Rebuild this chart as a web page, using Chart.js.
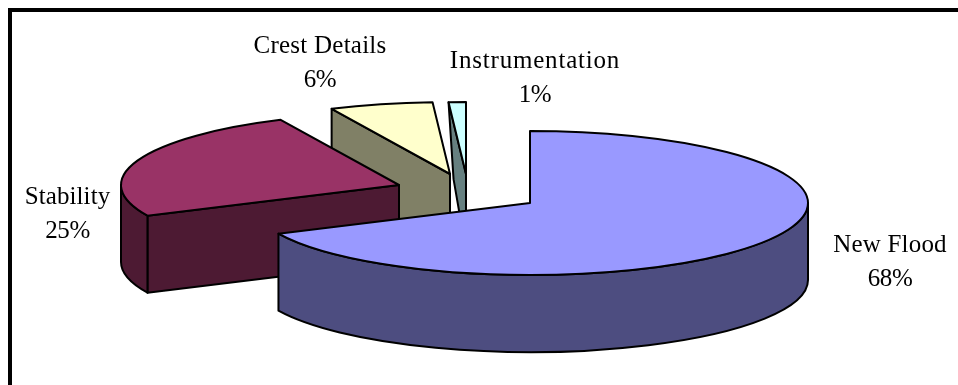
<!DOCTYPE html>
<html>
  <head>
    <meta charset="utf-8" />
    <title>Pie</title>
    <script src="https://cdn.jsdelivr.net/npm/chart.js"></script>
    <style>
      html,
      body {
        margin: 0;
        background: #fff;
        overflow: hidden;
      }
      #frame {
        position: absolute;
        left: 8px;
        top: 8px;
        right: 0;
        bottom: 0;
        border-top: 4px solid #000;
        border-left: 4px solid #000;
      }
      #pie {
        position: absolute;
        left: 0;
        top: 0;
      }
    </style>
  </head>

  <body>
    <div id="frame"></div>
    <canvas id="pie" width="958" height="385"></canvas>

    <script>
      const categories = ["New Flood", "Stability", "Crest Details", "Instrumentation"];
      const shares = [68, 25, 6, 1];

      const topColors = ["#9999ff", "#993366", "#ffffcc", "#ccffff"];
      const sideColors = ["#4d4d80", "#4d1a33", "#808066", "#668080"];

      // how far each slice is pulled out of the pie, in px
      const explodeX = [0, -131, -80, -64];
      const explodeY = [0, -18, -29, -29];
      // the thin slice's cut face narrows towards the bottom
      const faceLean = [0, 0, 0, 5];

      // label anchors: centre x and the name's baseline
      const labelX = [890, 67.5, 320, 535];
      const labelY = [252, 204, 53, 68];
      const labelGap = 34;
      const nameSpacing = [0.2, 0.1, 0.25, 0.8];

      const SQUASH = 0.259;
      const DEPTH = 77;

      const pie3d = {
        id: "pie3d",
        // replaces the flat drawing: walls first, then the squashed top
        beforeDatasetsDraw(chart) {
          const ctx = chart.ctx;
          const arcs = chart.getDatasetMeta(0).data;
          ctx.lineWidth = 2;
          ctx.lineJoin = "round";
          ctx.strokeStyle = "#000";

          // back slices first so the front ones cover them
          for (let i = arcs.length - 1; i >= 0; i--) {
            const el = arcs[i];
            const cx = el.x + explodeX[i];
            const cy = el.y + explodeY[i];
            const r = el.outerRadius;
            const ry = r * SQUASH;
            const a1 = el.startAngle;
            const a2 = el.endAngle;

            ctx.fillStyle = sideColors[i];

            // cut faces that look towards the viewer
            [
              [a1, Math.cos(a1) < -1e-6],
              [a2, Math.cos(a2) > 1e-6],
            ].forEach(([a, visible]) => {
              if (!visible) return;
              const ex = cx + r * Math.cos(a);
              const ey = cy + ry * Math.sin(a);
              ctx.beginPath();
              ctx.moveTo(ex, ey);
              ctx.lineTo(cx, cy);
              ctx.lineTo(cx, cy + DEPTH);
              ctx.lineTo(ex + faceLean[i], ey + DEPTH);
              ctx.closePath();
              ctx.fill();
              ctx.stroke();
            });

            // outer wall, only the front half of the rim shows
            const w1 = Math.max(a1, 0);
            const w2 = Math.min(a2, Math.PI);
            if (w2 > w1) {
              ctx.beginPath();
              ctx.ellipse(cx, cy, r, ry, 0, w1, w2);
              ctx.ellipse(cx, cy + DEPTH, r, ry, 0, w2, w1, true);
              ctx.closePath();
              ctx.fill();
              ctx.stroke();
            }

            // top face, the arc element itself under a squashed transform
            ctx.save();
            ctx.translate(cx, cy);
            ctx.scale(1, SQUASH);
            ctx.translate(-el.x, -el.y);
            el.draw(ctx);
            ctx.restore();

            ctx.beginPath();
            ctx.moveTo(cx, cy);
            ctx.ellipse(cx, cy, r, ry, 0, a1, a2);
            ctx.closePath();
            ctx.stroke();
          }
          return false;
        },
        afterDraw(chart) {
          const ctx = chart.ctx;
          ctx.save();
          ctx.fillStyle = "#000";
          ctx.font = '25px "Liberation Serif"';
          ctx.textAlign = "center";
          categories.forEach((name, i) => {
            ctx.letterSpacing = nameSpacing[i] + "px";
            ctx.fillText(name, labelX[i], labelY[i]);
            ctx.letterSpacing = "-0.4px";
            ctx.fillText(shares[i] + "%", labelX[i], labelY[i] + labelGap);
          });
          ctx.restore();
        },
      };

      new Chart(document.getElementById("pie"), {
        type: "pie",
        data: {
          labels: categories,
          datasets: [
            {
              data: shares,
              backgroundColor: topColors,
              borderWidth: 0,
              radius: 278,
            },
          ],
        },
        options: {
          responsive: false,
          animation: false,
          // puts the pie centre under the unexploded slice's tip
          layout: { padding: { left: 102, top: 21 } },
          plugins: {
            legend: { display: false },
            tooltip: { enabled: false },
          },
        },
        plugins: [pie3d],
      });
    </script>
  </body>
</html>
